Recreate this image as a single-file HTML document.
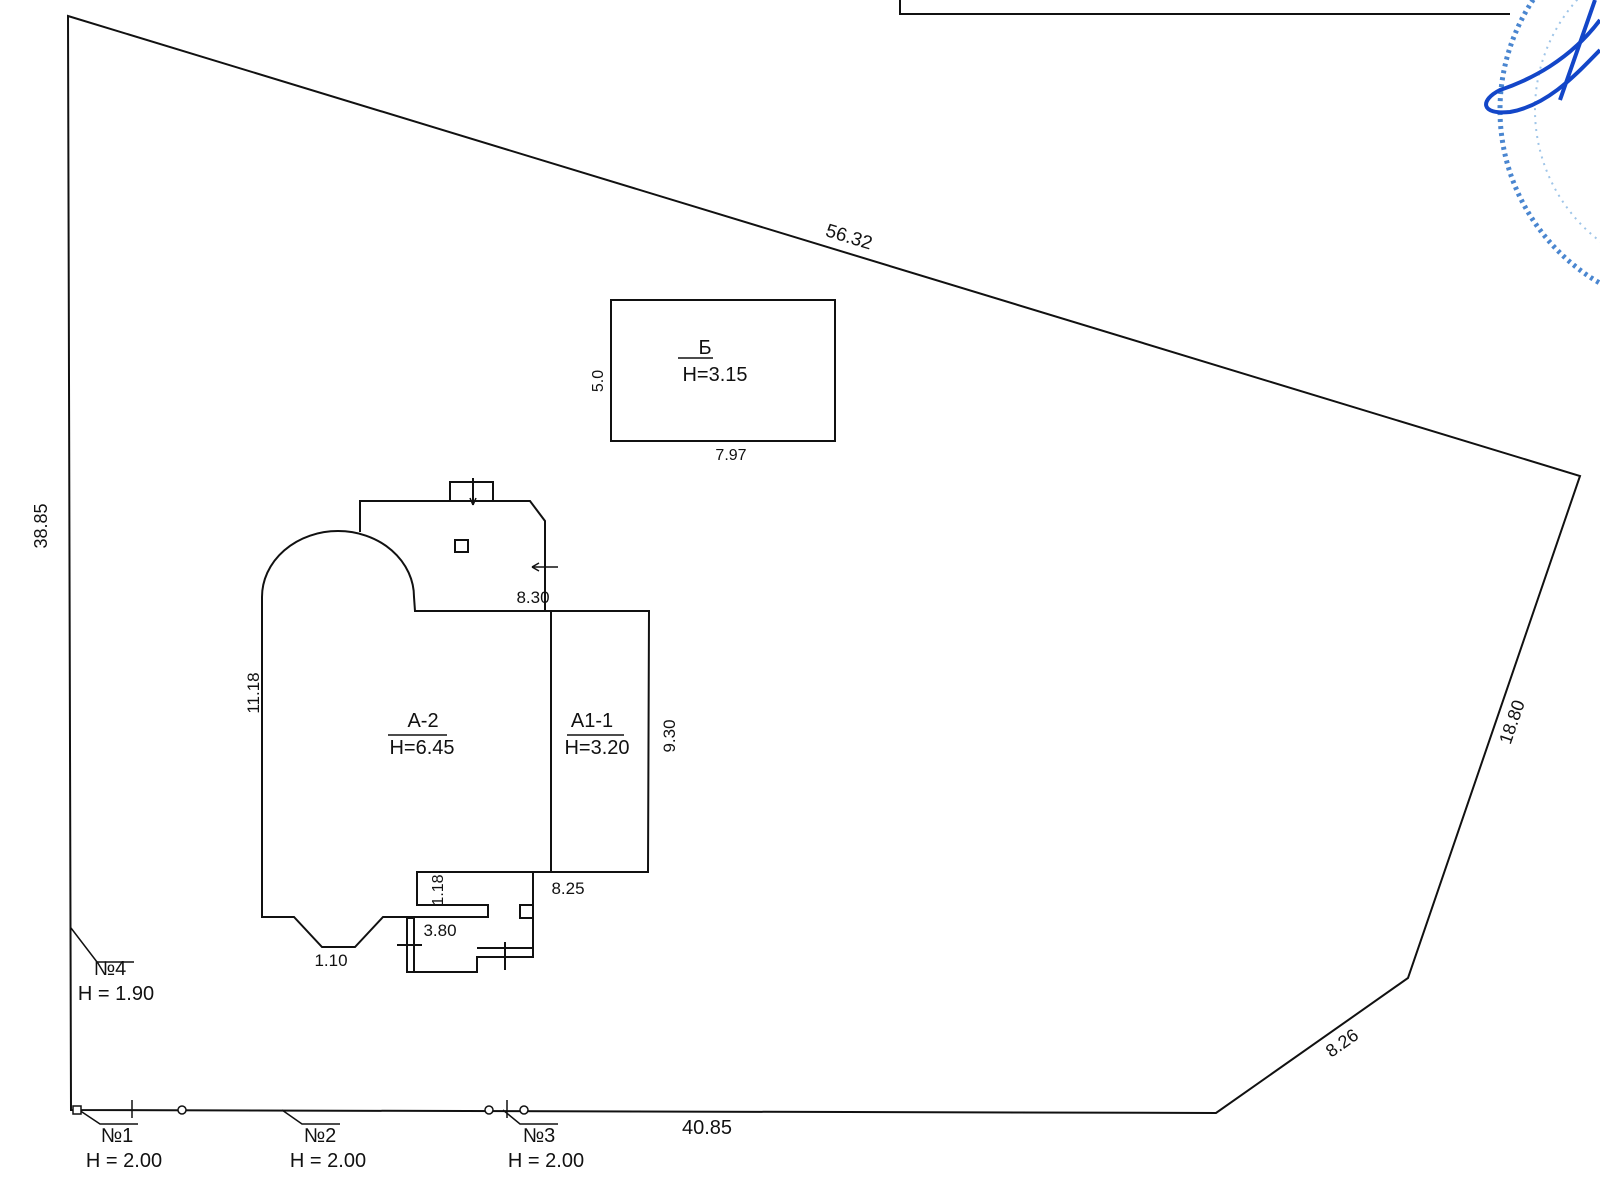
<!DOCTYPE html>
<html><head><meta charset="utf-8"><style>
html,body{margin:0;padding:0;background:#fff;}
svg{display:block;}
text{font-family:"Liberation Sans","DejaVu Sans",sans-serif;fill:#111;}
</style></head><body>
<svg width="1600" height="1200" viewBox="0 0 1600 1200" xmlns="http://www.w3.org/2000/svg">
<g fill="none" stroke="#111" stroke-width="2">
<polygon points="68,16 1580,476 1408,978 1216,1113 71,1110"/>
<polyline points="900,0 900,14 1510,14"/>
<rect x="611" y="300" width="224" height="141"/>
<path d="M262,597 A76,66 0 0 1 414,597 L415,611 L545,611 L545,521 L530,501 L360,501 L360,532"/>
<rect x="450" y="482" width="43" height="19"/>
<line x1="473" y1="478" x2="473" y2="505"/>
<rect x="455" y="540" width="13" height="12"/>
<line x1="558" y1="567" x2="532" y2="567" stroke-width="1.5"/>
<path d="M262,597 L262,917 L294,917 L322,947 L355,947 L383,917 L488,917 L488,905 L417,905 L417,872 L648,872 L649,611 L545,611"/>
<line x1="551" y1="611" x2="551" y2="872"/>
<path d="M533,872 L533,957 L477,957 L477,972 L407,972 L407,918 L414,918"/>
<line x1="414" y1="918" x2="414" y2="972"/>
<line x1="477" y1="948" x2="533" y2="948"/>
<rect x="520" y="905" width="13" height="13"/>
<line x1="505" y1="942" x2="505" y2="970"/>
<line x1="397" y1="945" x2="422" y2="945"/>
<line x1="713" y1="358" x2="678" y2="358" stroke-width="1.5"/>
<line x1="388" y1="735" x2="447" y2="735" stroke-width="1.5"/>
<line x1="567" y1="735" x2="624" y2="735" stroke-width="1.5"/>
<polyline points="71,928 97,962 134,962" stroke-width="1.5"/>
<polyline points="79,1110 100,1124 138,1124" stroke-width="1.5"/>
<polyline points="282,1110 302,1124 340,1124" stroke-width="1.5"/>
<polyline points="503,1110 520,1124 558,1124" stroke-width="1.5"/>
<line x1="132" y1="1100" x2="132" y2="1118" stroke-width="1.5"/>
<line x1="507" y1="1100" x2="507" y2="1118" stroke-width="1.5"/>
</g>
<g fill="#fff" stroke="#111" stroke-width="1.5">
<rect x="73" y="1106" width="8" height="8"/>
<circle cx="182" cy="1110" r="4"/>
<circle cx="489" cy="1110" r="4"/>
<circle cx="524" cy="1110" r="4"/>
</g>
<path d="M532,567 l7,-4 M532,567 l7,4 M473,505 l-3,-7 M473,505 l3,-7" stroke="#111" stroke-width="1.5" fill="none"/>
<g fill="none">
<circle cx="1700" cy="110" r="200" stroke="#4a86d0" stroke-width="5" stroke-dasharray="3,4"/>
<circle cx="1700" cy="110" r="165" stroke="#9fc5e8" stroke-width="2" stroke-dasharray="2,5"/>
<path d="M1600,20 C1570,60 1530,80 1500,90 C1480,100 1480,115 1510,112 C1550,105 1580,70 1600,50" stroke="#1346c8" stroke-width="4"/>
<path d="M1595,0 L1560,100" stroke="#1346c8" stroke-width="4"/>
</g>
<g font-size="18">
<text x="849" y="243" transform="rotate(17 849 237)" text-anchor="middle" font-size="19">56.32</text>
<text x="41" y="532" transform="rotate(-90 41 526)" text-anchor="middle">38.85</text>
<text x="1512" y="728" transform="rotate(-71 1512 722)" text-anchor="middle">18.80</text>
<text x="1342" y="1049" transform="rotate(-35 1342 1043)" text-anchor="middle">8.26</text>
<text x="707" y="1134" text-anchor="middle" font-size="20">40.85</text>
<text x="705" y="354" text-anchor="middle" font-size="20">Б</text>
<text x="715" y="381" text-anchor="middle" font-size="20">H=3.15</text>
<text x="597" y="387" transform="rotate(-90 597 381)" text-anchor="middle" font-size="16">5.0</text>
<text x="731" y="460" text-anchor="middle" font-size="16">7.97</text>
<text x="533" y="603" text-anchor="middle" font-size="17">8.30</text>
<text x="253" y="699" transform="rotate(-90 253 693)" text-anchor="middle" font-size="17">11.18</text>
<text x="423" y="727" text-anchor="middle" font-size="20">A-2</text>
<text x="422" y="754" text-anchor="middle" font-size="20">H=6.45</text>
<text x="592" y="727" text-anchor="middle" font-size="20">A1-1</text>
<text x="597" y="754" text-anchor="middle" font-size="20">H=3.20</text>
<text x="669" y="742" transform="rotate(-90 669 736)" text-anchor="middle" font-size="17">9.30</text>
<text x="568" y="894" text-anchor="middle" font-size="17">8.25</text>
<text x="437" y="896" transform="rotate(-90 437 890)" text-anchor="middle" font-size="16">1.18</text>
<text x="440" y="936" text-anchor="middle" font-size="17">3.80</text>
<text x="331" y="966" text-anchor="middle" font-size="17">1.10</text>
<text x="110" y="975" text-anchor="middle" font-size="20">№4</text>
<text x="116" y="1000" text-anchor="middle" font-size="20">H = 1.90</text>
<text x="117" y="1142" text-anchor="middle" font-size="20">№1</text>
<text x="124" y="1167" text-anchor="middle" font-size="20">H = 2.00</text>
<text x="320" y="1142" text-anchor="middle" font-size="20">№2</text>
<text x="328" y="1167" text-anchor="middle" font-size="20">H = 2.00</text>
<text x="539" y="1142" text-anchor="middle" font-size="20">№3</text>
<text x="546" y="1167" text-anchor="middle" font-size="20">H = 2.00</text>
</g>
</svg>
</body></html>
